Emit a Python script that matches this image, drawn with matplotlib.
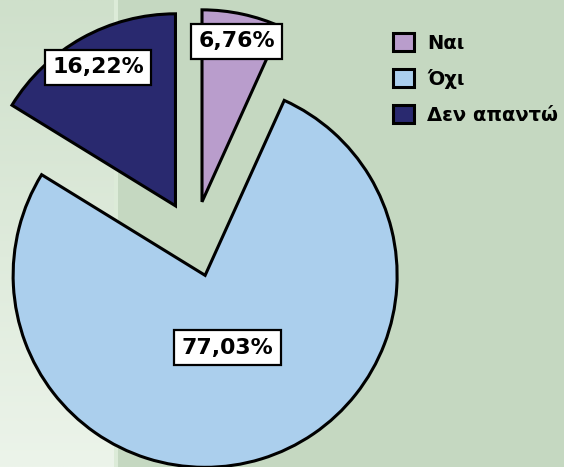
import numpy as np
import matplotlib
matplotlib.use("Agg")
import matplotlib.pyplot as plt
from matplotlib.colors import LinearSegmentedColormap
from matplotlib.patches import Rectangle

labels = ["Ναι", "Όχι", "Δεν απαντώ"]
values = [6.76, 77.03, 16.22]
colors = ["#b99dcc", "#abcfed", "#29296f"]

# Layout (pixels)
W, H = 564, 467
R = 192
CENTER = (194, H - 239)
EXPLODE = [38, 38, 38]
LABEL_DIST = [0.856, 0.395, 0.826]
FS = 15.8
LEG_FS = 14
LEG_PX = LEG_FS * 100 / 72

fig = plt.figure(figsize=(W / 100, H / 100), dpi=100, facecolor="#c5d8c1")
ax = fig.add_axes([0, 0, 1, 1])
ax.set_facecolor("#c5d8c1")

# light gradient panel on the left side
grad = np.linspace(0, 1, 256).reshape(-1, 1)
cmap = LinearSegmentedColormap.from_list("panel", ["#ecf4ea", "#cfe0cb"])
ax.imshow(grad, extent=(0, 114, 0, H), origin="lower", cmap=cmap,
          aspect="auto", zorder=0)
ax.add_patch(Rectangle((114, 0), 4, H, color="#dcebd8", zorder=0, lw=0))

wedges, _ = ax.pie(values, colors=colors, startangle=90, counterclock=False,
                   radius=R, center=CENTER, explode=EXPLODE, frame=True,
                   wedgeprops=dict(edgecolor="black", linewidth=2.2,
                                   joinstyle="miter", zorder=2))

for w, v, d in zip(wedges, values, LABEL_DIST):
    th = np.deg2rad((w.theta1 + w.theta2) / 2)
    cx, cy = w.center
    ax.text(cx + d * R * np.cos(th), cy + d * R * np.sin(th),
            f"{v:.2f}%".replace(".", ","), ha="center", va="center",
            fontsize=FS, fontweight="bold", color="black", zorder=5,
            bbox=dict(boxstyle="square,pad=0.34", fc="white", ec="black", lw=1.6))

ax.legend(wedges, labels, loc="upper left", bbox_to_anchor=(393 / W, 1 - 33 / H),
          frameon=False, prop=dict(weight="bold", size=LEG_FS),
          handlelength=21 / LEG_PX, handleheight=21 / LEG_PX,
          handletextpad=13 / LEG_PX, labelspacing=16 / LEG_PX,
          borderpad=0, borderaxespad=0)

ax.set_xlim(0, W)
ax.set_ylim(0, H)
ax.set_aspect("equal")
ax.axis("off")

fig.savefig("out.png", dpi=100, facecolor=fig.get_facecolor())
